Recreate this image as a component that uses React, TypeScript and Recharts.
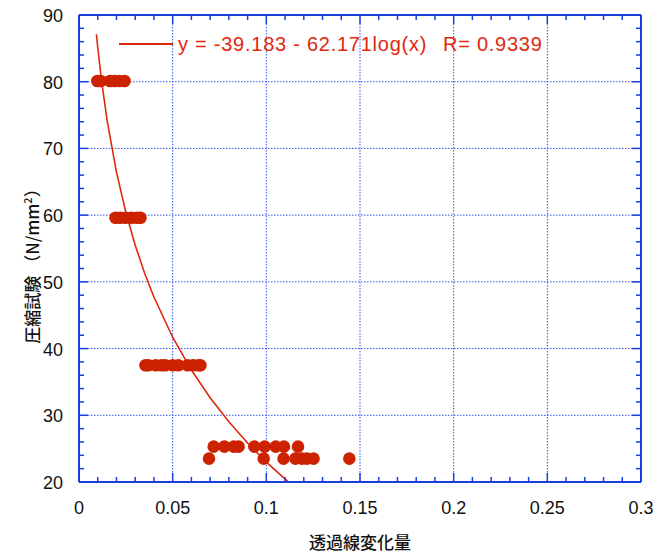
import React from 'react';
import { ComposedChart, XAxis, YAxis, Scatter, Line, CartesianGrid } from 'recharts';

// ---- data ----
const row80X = [0.0098, 0.0115, 0.0165, 0.019, 0.0215, 0.0243];
const row80Y = 80.1;
const row60X = [0.0195, 0.022, 0.025, 0.028, 0.031, 0.0328];
const row60Y = 59.6;
const row37X = [0.0355, 0.037, 0.041, 0.044, 0.046, 0.05, 0.053, 0.058, 0.061, 0.064, 0.0648];
const row37Y = 37.5;
const row25X = [0.0719, 0.0776, 0.0826, 0.0852, 0.0936, 0.0991, 0.105, 0.1094, 0.1169];
const row25Y = 25.3;
const row23X = [0.0694, 0.0986, 0.1092, 0.1155, 0.119, 0.1217, 0.1252, 0.1443];
const row23Y = 23.5;

const curveX = [0.0093, 0.010, 0.012, 0.015, 0.020, 0.025, 0.030, 0.035, 0.040, 0.050, 0.060, 0.070, 0.080, 0.090, 0.100, 0.112];
const curveY = [87.12, 85.16, 80.24, 74.21, 66.45, 60.42, 55.50, 51.33, 47.73, 41.70, 36.78, 32.62, 29.02, 25.84, 22.99, 19.93];

const xMajor = [0, 0.05, 0.1, 0.15, 0.2, 0.25, 0.3];
const xTicks = [0, 0.01, 0.02, 0.03, 0.04, 0.05, 0.06, 0.07, 0.08, 0.09, 0.1, 0.11, 0.12, 0.13, 0.14, 0.15,
  0.16, 0.17, 0.18, 0.19, 0.2, 0.21, 0.22, 0.23, 0.24, 0.25, 0.26, 0.27, 0.28, 0.29, 0.3];
const yMajor = [20, 30, 40, 50, 60, 70, 80, 90];
const yTicks = [20, 22, 24, 26, 28, 30, 32, 34, 36, 38, 40, 42, 44, 46, 48, 50, 52, 54, 56, 58, 60,
  62, 64, 66, 68, 70, 72, 74, 76, 78, 80, 82, 84, 86, 88, 90];

const legendEq = 'y = -39.183 - 62.171log(x)';
const legendR = 'R= 0.9339';
const xTitle = '透過線変化量';
const yTitleMain = '圧縮試験 （N/mm';
const yTitleSup = '2';
const yTitleEnd = '）';

// ---- build ----
const points = [
  ...row80X.map((x) => ({ x, y: row80Y })),
  ...row60X.map((x) => ({ x, y: row60Y })),
  ...row37X.map((x) => ({ x, y: row37Y })),
  ...row25X.map((x) => ({ x, y: row25Y })),
  ...row23X.map((x) => ({ x, y: row23Y })),
];
const curve = curveX.map((x, i) => ({ x, y: curveY[i] }));

const BLUE = '#1b3fdc';
const GRID = '#2f52ee';
const RED_DOT = '#cc2200';
const RED_LINE = '#e0280e';
const NUM_FONT = '"Liberation Sans", Arial, sans-serif';
const JP_FONT = '"Noto Sans CJK JP", sans-serif';

const isMajor = (v: number, step: number) => Math.abs(v / step - Math.round(v / step)) < 1e-6;
const fmtX = (v: number) => String(Number(v.toFixed(2)));

const BottomTick = (props: any) => {
  const { x, y, payload } = props;
  const major = isMajor(payload.value, 0.05);
  return (
    <g>
      <line x1={x} x2={x} y1={y} y2={y - (major ? 9 : 5)} stroke={BLUE} strokeWidth={1.5} />
      {major && (
        <text x={x} y={y + 32} textAnchor="middle" fontSize={18} fill="#111" fontFamily={NUM_FONT}>
          {fmtX(payload.value)}
        </text>
      )}
    </g>
  );
};
const TopTick = (props: any) => {
  const { x, y, payload } = props;
  const major = isMajor(payload.value, 0.05);
  return <line x1={x} x2={x} y1={y} y2={y + (major ? 9 : 5)} stroke={BLUE} strokeWidth={1.5} />;
};
const LeftTick = (props: any) => {
  const { x, y, payload } = props;
  const major = isMajor(payload.value, 10);
  return (
    <g>
      <line x1={x} x2={x + (major ? 9 : 5)} y1={y} y2={y} stroke={BLUE} strokeWidth={1.5} />
      {major && (
        <text x={x - 16} y={y + 7} textAnchor="end" fontSize={18} fill="#111" fontFamily={NUM_FONT}>
          {payload.value}
        </text>
      )}
    </g>
  );
};
const RightTick = (props: any) => {
  const { x, y, payload } = props;
  const major = isMajor(payload.value, 10);
  return <line x1={x} x2={x - (major ? 9 : 5)} y1={y} y2={y} stroke={BLUE} strokeWidth={1.5} />;
};

const Dot = (props: any) => {
  const { cx, cy } = props;
  return <circle cx={cx} cy={cy} r={6.3} fill={RED_DOT} />;
};

export default function App() {
  const axisLine = { stroke: BLUE, strokeWidth: 2 };
  const legendText = {
    position: 'absolute' as const,
    top: 32,
    fontFamily: NUM_FONT,
    fontSize: 20,
    letterSpacing: 0.75,
    color: RED_LINE,
    whiteSpace: 'nowrap' as const,
    lineHeight: '24px',
  };
  return (
    <div style={{ position: 'absolute', left: 0, top: 0, width: 672, height: 556, background: '#fff' }}>
      <ComposedChart
        width={672}
        height={556}
        margin={{ top: 10, right: 26, bottom: 44, left: 49 }}
      >
        <CartesianGrid
          stroke={GRID}
          strokeDasharray="1.5 1.5"
          strokeWidth={1}
          horizontalValues={yMajor}
          verticalValues={xMajor}
        />
        <XAxis
          type="number"
          dataKey="x"
          domain={[0, 0.3]}
          ticks={xTicks}
          interval={0}
          height={30}
          tickSize={0}
          tickMargin={0}
          tickLine={false}
          axisLine={axisLine}
          tick={<BottomTick />}
          allowDataOverflow
        />
        <XAxis
          xAxisId="t"
          orientation="top"
          type="number"
          dataKey="x"
          domain={[0, 0.3]}
          ticks={xTicks}
          interval={0}
          height={5}
          tickSize={0}
          tickMargin={0}
          tickLine={false}
          axisLine={axisLine}
          tick={<TopTick />}
          allowDataOverflow
        />
        <YAxis
          type="number"
          domain={[20, 90]}
          ticks={yTicks}
          interval={0}
          width={30}
          tickSize={0}
          tickMargin={0}
          tickLine={false}
          axisLine={axisLine}
          tick={<LeftTick />}
          allowDataOverflow
        />
        <YAxis
          yAxisId="r"
          orientation="right"
          type="number"
          domain={[20, 90]}
          ticks={yTicks}
          interval={0}
          width={5}
          tickSize={0}
          tickMargin={0}
          tickLine={false}
          axisLine={axisLine}
          tick={<RightTick />}
          allowDataOverflow
        />
        <Line
          data={curve}
          dataKey="y"
          type="linear"
          stroke={RED_LINE}
          strokeWidth={1.6}
          dot={false}
          activeDot={false}
          isAnimationActive={false}
        />
        <Scatter
          data={points}
          dataKey="y"
          shape={<Dot />}
          isAnimationActive={false}
        />
        <text x={360} y={549} textAnchor="middle" fontSize={17} fontWeight={500} fill="#111" fontFamily={JP_FONT}>
          {xTitle}
        </text>
        <text
          x={0}
          y={0}
          transform="translate(39,262) rotate(-90)"
          textAnchor="middle"
          fontSize={17}
          fontWeight={500}
          fill="#111"
          fontFamily={JP_FONT}
        >
          {yTitleMain}
          <tspan fontSize={11} dy={-7}>{yTitleSup}</tspan>
          <tspan dy={7}>{yTitleEnd}</tspan>
        </text>
      </ComposedChart>
      <div style={{ position: 'absolute', left: 119, top: 43, width: 54, height: 1.6, background: RED_LINE }} />
      <div style={{ ...legendText, left: 178 }}>{legendEq}</div>
      <div style={{ ...legendText, left: 443 }}>{legendR}</div>
    </div>
  );
}
